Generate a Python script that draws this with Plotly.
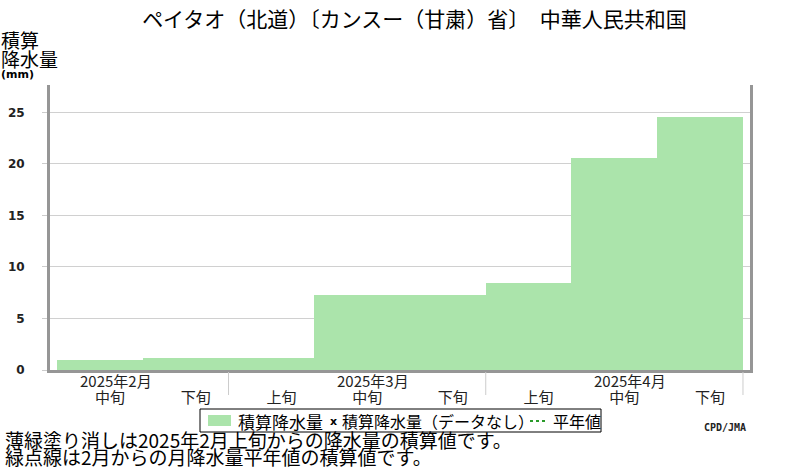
import plotly.graph_objects as go

# 旬ごとの積算降水量 (mm)
months = ["2025年2月", "2025年2月",
          "2025年3月", "2025年3月", "2025年3月",
          "2025年4月", "2025年4月", "2025年4月"]
dekads = ["中旬", "下旬", "上旬", "中旬", "下旬", "上旬", "中旬", "下旬"]
precip_cum = [1.0, 1.2, 1.2, 7.3, 7.3, 8.4, 20.6, 24.5]
y_ticks = [0, 5, 10, 15, 20, 25]

TITLE = "ペイタオ（北道）〔カンスー（甘粛）省〕　中華人民共和国"
NOTE1 = "薄緑塗り消しは2025年2月上旬からの降水量の積算値です。"
NOTE2 = "緑点線は2月からの月降水量平年値の積算値です。"

JP = "Noto Sans CJK JP"
BAR_GREEN = "#abe4ab"
AXIS_GRAY = "#969696"

# plot area in pixels: x 50..750, y 85..370
L, T, W, H = 50, 85, 700, 285

def px_x(p):
    return (p - L) / W

def px_y(p):
    return (T + H - p) / H

idx = list(range(len(dekads)))

fig = go.Figure()
fig.add_trace(go.Bar(
    x=idx,
    y=precip_cum,
    width=1,
    marker=dict(color=BAR_GREEN, line=dict(width=0)),
    showlegend=False,
    hoverinfo="skip",
))

# month boundaries below the axis
bounds = [i + 0.5 for i in range(len(months) - 1) if months[i] != months[i + 1]]
bounds.append(len(months) - 0.5)
for b in bounds:
    fig.add_shape(type="line", xref="x", yref="paper",
                  x0=b, x1=b, y0=px_y(372), y1=px_y(395),
                  line=dict(color="#cccccc", width=1))

annotations = []
# month labels, above the 中旬 label of each month
for i, (m, d) in enumerate(zip(months, dekads)):
    if d == "中旬":
        annotations.append(dict(
            x=i, y=px_y(381), xref="x", yref="paper", text=m,
            showarrow=False, xshift=16, font=dict(family=JP, size=15, color="#222"),
            xanchor="center", yanchor="middle"))

# y axis title
annotations += [
    dict(x=px_x(-1), y=px_y(40), text="積算", font=dict(family=JP, size=19, color="black")),
    dict(x=px_x(-1), y=px_y(59), text="降水量", font=dict(family=JP, size=19, color="black")),
    dict(x=px_x(-1), y=px_y(74), text="<b>(mm)</b>", font=dict(family="DejaVu Sans", size=11, color="black")),
]
for a in annotations[-3:]:
    a.update(xref="paper", yref="paper", showarrow=False, xanchor="left", yanchor="middle")

# legend (drawn by hand to match the original layout)
fig.add_shape(type="rect", xref="paper", yref="paper",
              x0=px_x(200), x1=px_x(601), y0=px_y(409), y1=px_y(432),
              line=dict(color="black", width=1), fillcolor="white")
fig.add_shape(type="rect", xref="paper", yref="paper",
              x0=px_x(208), x1=px_x(231), y0=px_y(415), y1=px_y(426),
              line=dict(width=0), fillcolor=BAR_GREEN)
fig.add_shape(type="line", xref="paper", yref="paper",
              x0=px_x(530), x1=px_x(546), y0=px_y(421), y1=px_y(421),
              line=dict(color="#2a9a2a", width=2, dash="dot"))
legend_texts = [
    (236, "積算降水量", JP, 17),
    (328, "<b>x</b>", "DejaVu Sans", 11),
    (340, "積算降水量（データなし）", JP, 16),
    (551, "平年値", JP, 16),
]
for x0, t, fam, sz in legend_texts:
    annotations.append(dict(x=px_x(x0), y=px_y(421), xref="paper", yref="paper",
                            text=t, showarrow=False, xanchor="left", yanchor="middle",
                            font=dict(family=fam, size=sz, color="black")))

# notes and credit
annotations += [
    dict(x=px_x(3), y=px_y(439), text=NOTE1, font=dict(family=JP, size=19, color="black")),
    dict(x=px_x(3), y=px_y(456), text=NOTE2, font=dict(family=JP, size=19, color="black")),
]
for a in annotations[-2:]:
    a.update(xref="paper", yref="paper", showarrow=False, xanchor="left", yanchor="middle")
annotations.append(dict(x=px_x(748), y=px_y(427), xref="paper", yref="paper",
                        text="<b>CPD/JMA</b>", showarrow=False, xanchor="right", yanchor="middle",
                        font=dict(family="DejaVu Sans Mono", size=10, color="#222")))

fig.update_layout(
    width=800,
    height=470,
    margin=dict(l=L, r=800 - L - W, t=T, b=470 - T - H),
    paper_bgcolor="white",
    plot_bgcolor="white",
    bargap=0,
    title=dict(text=TITLE, x=414.5 / 800, xanchor="center",
               y=1 - 20 / 470, yanchor="middle",
               font=dict(family=JP, size=21, color="black")),
    annotations=annotations,
    showlegend=False,
)
fig.update_xaxes(
    range=[-0.582, len(dekads) - 0.418],
    tickvals=idx,
    ticktext=dekads,
    ticks="",
    ticklabelshift=10,
    ticklabelstandoff=12,
    tickfont=dict(family=JP, size=15, color="#222"),
    showgrid=False,
    zeroline=False,
    showline=True,
    linecolor=AXIS_GRAY,
    linewidth=3,
    automargin=False,
)
fig.update_yaxes(
    range=[0, 27.65],
    tickvals=y_ticks,
    ticks="outside",
    ticklen=5,
    tickcolor="#cccccc",
    ticklabelstandoff=15,
    tickfont=dict(family="DejaVu Sans", size=12, color="#222", weight="bold"),
    gridcolor="#d0d0d0",
    gridwidth=1,
    zeroline=False,
    showline=True,
    linecolor=AXIS_GRAY,
    linewidth=3,
    mirror=True,
    automargin=False,
)

# drop the default body margin so the 800x470 figure fills the window
fig.write_html("out.html", config={"displayModeBar": False},
               post_script="document.body.style.margin = '0px';")
